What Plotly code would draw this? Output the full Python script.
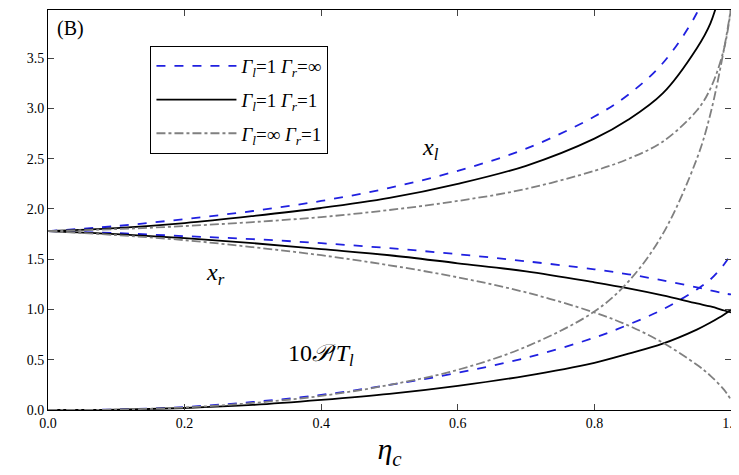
import plotly.graph_objects as go

eta = [0, 0.1, 0.2, 0.3, 0.4, 0.5, 0.6, 0.7, 0.8, 0.85, 0.9, 0.95, 0.97, 0.99, 1.0]

# x_l branch
blue_xl = [1.78, 1.83, 1.90, 1.98, 2.08, 2.21, 2.38, 2.60, 2.92, 3.14, 3.45, 3.95, 4.3, None, None]
black_xl = [1.78, 1.81, 1.86, 1.93, 2.01, 2.11, 2.25, 2.43, 2.70, 2.89, 3.15, 3.60, 3.85, 4.3, None]
gray_xl = [1.78, 1.80, 1.83, 1.87, 1.92, 1.99, 2.08, 2.20, 2.38, 2.50, 2.67, 2.98, 3.2, 3.6, 4.0]
# x_r branch
blue_xr = [1.78, 1.76, 1.73, 1.70, 1.66, 1.61, 1.55, 1.48, 1.40, 1.35, 1.29, 1.22, 1.19, 1.16, 1.15]
black_xr = [1.78, 1.75, 1.71, 1.66, 1.60, 1.54, 1.46, 1.38, 1.27, 1.21, 1.14, 1.06, 1.03, 0.99, 0.97]
gray_xr = [1.78, 1.74, 1.69, 1.62, 1.54, 1.44, 1.32, 1.17, 0.97, 0.84, 0.67, 0.45, 0.34, 0.2, 0.1]
# 10 P / T_l
blue_p = [0, 0.005, 0.03, 0.08, 0.15, 0.25, 0.37, 0.52, 0.72, 0.85, 1.0, 1.2, 1.3, 1.45, 1.55]
black_p = [0, 0.003, 0.02, 0.05, 0.10, 0.16, 0.24, 0.34, 0.47, 0.56, 0.66, 0.80, 0.87, 0.95, 1.0]
gray_p = [0, 0.004, 0.025, 0.07, 0.14, 0.25, 0.40, 0.63, 0.98, 1.28, 1.75, 2.5, 2.95, 3.6, 4.0]

styles = [
    ("<i>Γ</i><sub><i>l</i></sub>=1 <i>Γ</i><sub><i>r</i></sub>=∞", "#2020e0", "dash", [blue_xl, blue_xr, blue_p]),
    ("<i>Γ</i><sub><i>l</i></sub>=1 <i>Γ</i><sub><i>r</i></sub>=1", "black", "solid", [black_xl, black_xr, black_p]),
    ("<i>Γ</i><sub><i>l</i></sub>=∞ <i>Γ</i><sub><i>r</i></sub>=1", "#808080", "dashdot", [gray_xl, gray_xr, gray_p]),
]

fig = go.Figure()
for name, color, dash, series in styles:
    for i, ys in enumerate(series):
        fig.add_trace(go.Scatter(x=eta, y=ys, mode="lines", name=name, legendgroup=name,
                                 showlegend=(i == 0), line=dict(color=color, dash=dash, width=1.8, shape="spline")))

ax = dict(showline=True, linecolor="black", mirror="ticks", ticks="inside", ticklen=6,
          showgrid=False, zeroline=False)
fig.update_xaxes(range=[0, 1], dtick=0.2, tickformat=".1f", title=dict(text="<i>η</i><sub><i>c</i></sub>", font=dict(size=30), standoff=8), **ax)
fig.update_yaxes(range=[0, 3.98], dtick=0.5, tickformat=".1f", **ax)

fig.add_annotation(x=0.01, y=3.93, text="(B)", showarrow=False, xanchor="left", yanchor="top", font=dict(size=20))
fig.add_annotation(x=0.56, y=2.6, text="<i>x</i><sub><i>l</i></sub>", showarrow=False, font=dict(size=24))
fig.add_annotation(x=0.245, y=1.35, text="<i>x</i><sub><i>r</i></sub>", showarrow=False, font=dict(size=24))
fig.add_annotation(x=0.4, y=0.55, text="10<i>𝒫</i>/<i>T</i><sub><i>l</i></sub>", showarrow=False, font=dict(size=24))

fig.update_layout(
    width=739, height=475, template="simple_white",
    font=dict(family="Liberation Serif", color="black", size=14),
    margin=dict(l=40, r=16, t=2, b=73),
    legend=dict(x=0.15, y=0.91, xanchor="left", yanchor="top", bordercolor="black", borderwidth=1,
                bgcolor="white", font=dict(size=19), itemwidth=80, tracegroupgap=6),
)
fig.write_html("out.html")
